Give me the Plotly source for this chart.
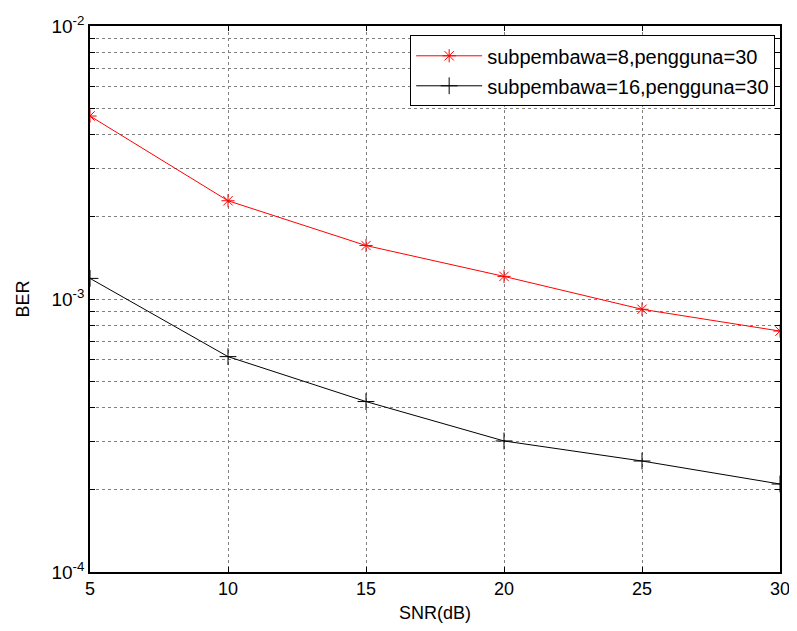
import plotly.graph_objects as go

snr = [5, 10, 15, 20, 25, 30]
ber_sub8 = [4.68e-3, 2.29e-3, 1.57e-3, 1.21e-3, 9.17e-4, 7.63e-4]
ber_sub16 = [1.19e-3, 6.15e-4, 4.21e-4, 3.02e-4, 2.55e-4, 2.10e-4]
name_sub8 = "subpembawa=8,pengguna=30"
name_sub16 = "subpembawa=16,pengguna=30"
x_ticks = [5, 10, 15, 20, 25, 30]
y_decades = [1e-4, 1e-3, 1e-2]
y_decade_labels = ["10<sup>-4</sup>", "10<sup>-3</sup>", "10<sup>-2</sup>"]

y_tickvals = []
y_ticktext = []
for d, lab in zip(y_decades, y_decade_labels):
    y_tickvals.append(d)
    y_ticktext.append(lab)
    if d < 1e-2:
        for m in range(2, 10):
            y_tickvals.append(d * m)
            y_ticktext.append("")

font = "Liberation Sans, Arial, sans-serif"

fig = go.Figure()
fig.add_trace(go.Scatter(
    x=snr, y=ber_sub8, name=name_sub8, mode="lines+markers",
    legendgroup="a",
    line=dict(color="#ff0000", width=1),
    marker=dict(symbol="asterisk-open", size=11, color="#ff0000",
                line=dict(color="#ff0000", width=1)),
))
fig.add_trace(go.Scatter(
    x=snr, y=ber_sub16, name=name_sub16, mode="lines+markers",
    legendgroup="b",
    line=dict(color="#000000", width=1),
    marker=dict(symbol="cross-thin-open", size=12, color="#000000",
                line=dict(color="#000000", width=1)),
))

# the page body adds an 8px margin on every side; size/margins compensate
fig.update_layout(
    width=781, height=615,
    margin=dict(l=82, r=9, t=18, b=51),
    paper_bgcolor="white", plot_bgcolor="white",
    font=dict(family=font, size=18, color="black"),
    showlegend=True,
    legend=dict(
        x=0.993, y=0.983, xanchor="right", yanchor="top",
        bgcolor="white", bordercolor="black", borderwidth=1,
        font=dict(size=20, family=font),
        tracegroupgap=1, itemwidth=66,
    ),
    xaxis=dict(
        range=[5, 30], tickvals=x_ticks, ticks="inside", ticklen=5,
        tickcolor="black", showline=True, linecolor="black", linewidth=1.5,
        mirror="allticks", showgrid=True, gridcolor="#808080", griddash="dot",
        gridwidth=1, zeroline=False, automargin=False,
        ticklabeloverflow="allow",
        title=dict(text="SNR(dB)", font=dict(size=18), standoff=8),
        tickfont=dict(size=18),
    ),
    yaxis=dict(
        type="log", range=[-4, -2], tickvals=y_tickvals, ticktext=y_ticktext,
        ticks="inside", ticklen=5, tickcolor="black", showline=True,
        linecolor="black", linewidth=1.5, mirror="allticks",
        showgrid=True, gridcolor="#808080", griddash="dot", gridwidth=1,
        zeroline=False, automargin=False,
        title=dict(text="BER", font=dict(size=18), standoff=17),
        tickfont=dict(size=19),
    ),
)

fig.write_html("out.html")
